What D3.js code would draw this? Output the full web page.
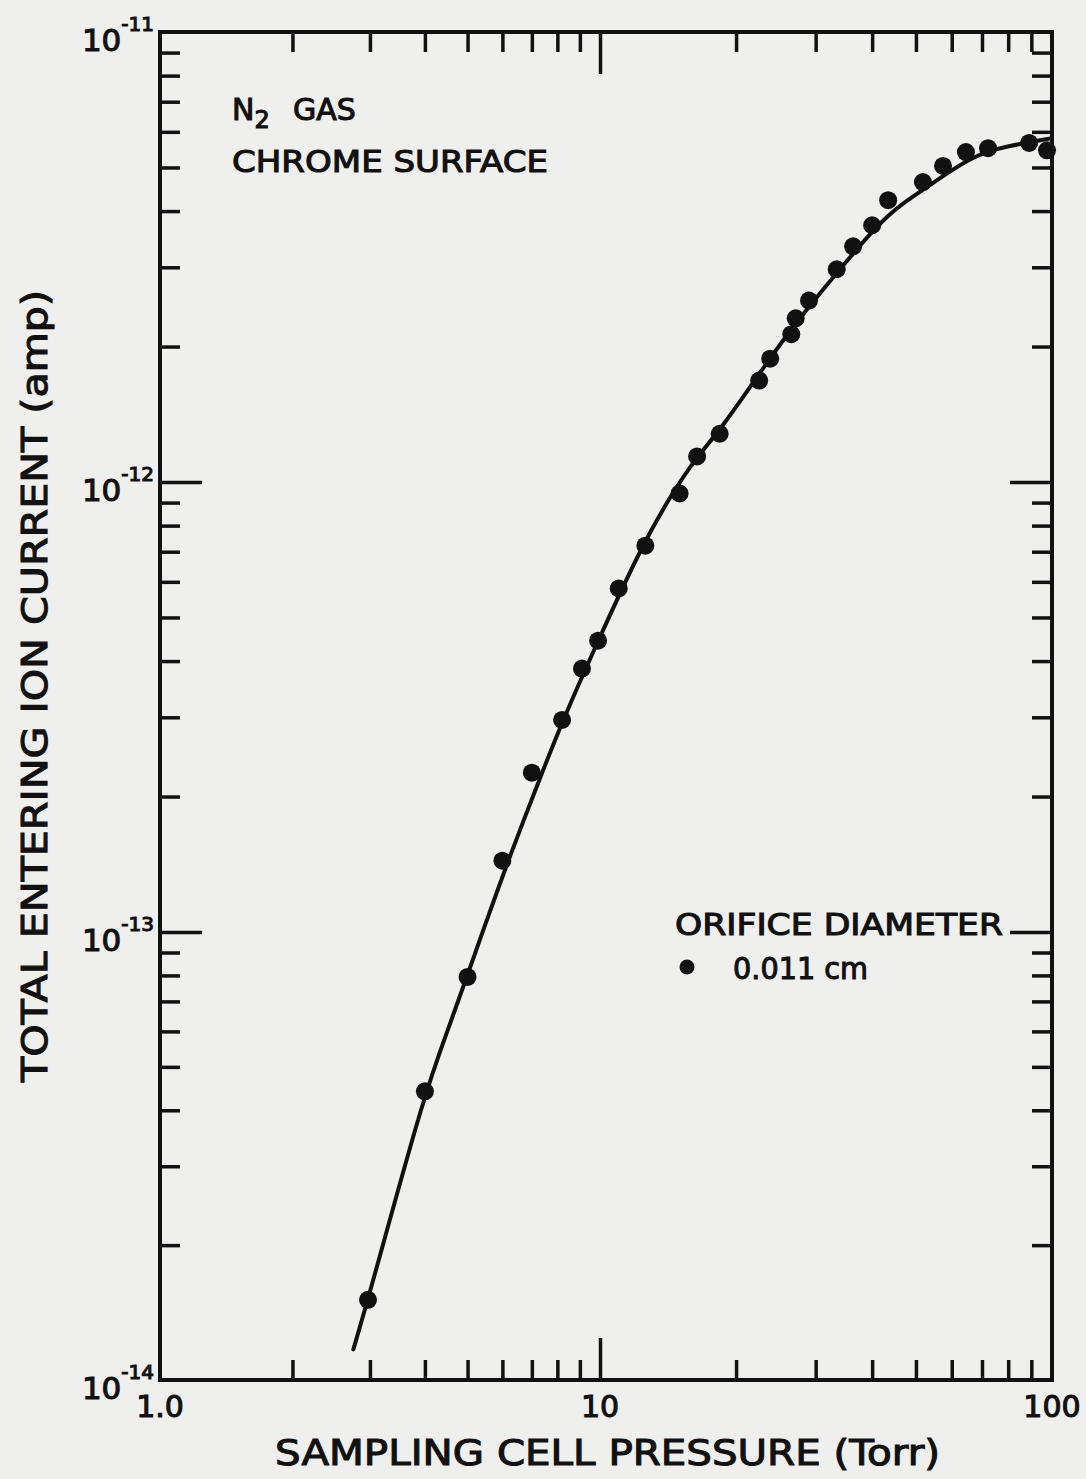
<!DOCTYPE html>
<html>
<head>
<meta charset="utf-8">
<script src="https://cdn.jsdelivr.net/npm/d3@7"></script>
<style>
  html, body { margin: 0; padding: 0; background: #efefed; }
  svg { display: block; }
  text { font-family: "DejaVu Sans", sans-serif; fill: #111; stroke: #111; stroke-width: 1.1px; }
</style>
</head>
<body>
<svg id="chart" width="1086" height="1479"></svg>
<script>
// ---- data ----
const pressure = [2.97, 4.0, 5.0, 6.0, 7.0, 8.2, 9.1, 9.9, 11.0, 12.6, 15.0, 16.4, 18.4, 22.5, 23.8,
                  26.5, 27.1, 29.0, 33.4, 36.3, 40.0, 43.4, 51.8, 57.4, 64.5, 72.2, 89.0, 97.5];
const current  = [1.51e-14, 4.41e-14, 7.94e-14, 1.44e-13, 2.26e-13, 2.96e-13, 3.85e-13, 4.44e-13,
                  5.8e-13, 7.22e-13, 9.43e-13, 1.14e-12, 1.28e-12, 1.68e-12, 1.88e-12, 2.13e-12,
                  2.31e-12, 2.53e-12, 2.97e-12, 3.34e-12, 3.72e-12, 4.23e-12, 4.64e-12, 5.04e-12,
                  5.41e-12, 5.52e-12, 5.67e-12, 5.46e-12];
// fitted curve as drawn in the reference
const curveP = [2.75, 2.97, 4.0, 4.51, 5.54, 6.18, 7.38, 8.24, 9.9, 12.38, 14.43, 16.39, 18.43,
                23.18, 26.73, 33.44, 41.64, 46.11, 52.9, 66.88, 79.5, 100];
const curveI = [1.17e-14, 1.51e-14, 4.41e-14, 6.02e-14, 1.069e-13, 1.439e-13, 2.258e-13, 2.962e-13,
                4.441e-13, 7.223e-13, 9.428e-13, 1.139e-12, 1.302e-12, 1.816e-12, 2.218e-12,
                2.924e-12, 3.778e-12, 4.122e-12, 4.52e-12, 5.326e-12, 5.577e-12, 5.81e-12];
const xMajor = [1, 10, 100];
const xLabels = ["1.0", "10", "100"];
const yMajor = [1e-14, 1e-13, 1e-12, 1e-11];
const yExponents = ["-14", "-13", "-12", "-11"];
const xTitle = "SAMPLING CELL PRESSURE (Torr)";
const yTitle = "TOTAL ENTERING ION CURRENT (amp)";
const legendTitle = "ORIFICE DIAMETER";
const legendItem = "0.011 cm";

// ---- layout ----
const L = 160, R = 1052, T = 32, B = 1380;
const svg = d3.select("#chart");
svg.append("rect").attr("width", 1086).attr("height", 1479).attr("fill", "#efefed");

const x = d3.scaleLog().domain([1, 10, 100]).range([L, 600, R]);
const y = d3.scaleLog().domain([1e-14, 1e-13, 1e-12, 1e-11]).range([B, 932, 482, T]);

const isMajor = v => Math.abs(Math.log10(v) - Math.round(Math.log10(v))) < 1e-9;
const xMinor = x.ticks().filter(v => !isMajor(v));
const yMinor = y.ticks().filter(v => !isMajor(v));

const minorLen = 20, majorLen = 42;
function addAxis(axisFn, scale, vals, len, tx, ty) {
  const g = svg.append("g").attr("transform", `translate(${tx},${ty})`)
    .call(axisFn(scale).tickValues(vals).tickSizeInner(-len).tickSizeOuter(0).tickFormat(""));
  g.select(".domain").remove();
  g.selectAll("line").attr("stroke", "#111").attr("stroke-width", 3.5);
}
addAxis(d3.axisBottom, x, xMinor, minorLen, 0, B);
addAxis(d3.axisBottom, x, xMajor.slice(1, 2), majorLen, 0, B);
addAxis(d3.axisTop, x, xMinor, minorLen, 0, T);
addAxis(d3.axisTop, x, xMajor.slice(1, 2), majorLen, 0, T);
addAxis(d3.axisLeft, y, yMinor, minorLen, L, 0);
addAxis(d3.axisLeft, y, yMajor.slice(1, 3), majorLen, L, 0);
addAxis(d3.axisRight, y, yMinor, minorLen, R, 0);
addAxis(d3.axisRight, y, yMajor.slice(1, 3), majorLen, R, 0);

// frame
svg.append("rect").attr("x", L).attr("y", T).attr("width", R - L).attr("height", B - T)
  .attr("fill", "none").attr("stroke", "#111").attr("stroke-width", 4);

// y tick labels (10^n)
yMajor.forEach((v, i) => {
  const t = svg.append("text").attr("x", L - 6).attr("y", y(v) + 19)
    .attr("text-anchor", "end").style("font-size", "31px");
  t.append("tspan").text("10");
  t.append("tspan").attr("dy", -20).style("font-size", "20px").text(yExponents[i]);
});

// x tick labels
xMajor.forEach((v, i) => {
  svg.append("text").attr("x", x(v)).attr("y", B + 37)
    .attr("text-anchor", "middle").style("font-size", "30px").text(xLabels[i]);
});

// axis titles
svg.append("text").attr("x", 275).attr("y", 1465).style("font-size", "36px")
  .attr("textLength", 665).attr("lengthAdjust", "spacingAndGlyphs").text(xTitle);
svg.append("text").attr("transform", "translate(47,1082) rotate(-90)")
  .style("font-size", "36px").attr("textLength", 792).attr("lengthAdjust", "spacingAndGlyphs")
  .text(yTitle);

// curve
const line = d3.line().x((d, i) => x(curveP[i])).y((d, i) => y(curveI[i]))
  .curve(d3.curveBasis);
svg.append("path").datum(curveP).attr("d", line)
  .attr("fill", "none").attr("stroke", "#111").attr("stroke-width", 4).attr("stroke-linecap", "round");

// data points
svg.append("g").selectAll("circle").data(pressure).join("circle")
  .attr("cx", d => x(d)).attr("cy", (d, i) => y(current[i])).attr("r", 9).attr("fill", "#111");

// annotation
const n2 = svg.append("text").attr("x", 232).attr("y", 120).style("font-size", "30px");
n2.append("tspan").text("N");
n2.append("tspan").attr("dy", 8).style("font-size", "24px").text("2");
n2.append("tspan").attr("x", 293).attr("dy", -8).text("GAS");
svg.append("text").attr("x", 232).attr("y", 172).style("font-size", "30px")
  .attr("textLength", 316).attr("lengthAdjust", "spacingAndGlyphs").text("CHROME SURFACE");

// legend
svg.append("text").attr("x", 675).attr("y", 935).style("font-size", "30px")
  .attr("textLength", 328).attr("lengthAdjust", "spacingAndGlyphs").text(legendTitle);
svg.append("circle").attr("cx", 687).attr("cy", 967).attr("r", 7.5).attr("fill", "#111");
svg.append("text").attr("x", 733).attr("y", 979).style("font-size", "30px")
  .attr("textLength", 135).attr("lengthAdjust", "spacingAndGlyphs").text(legendItem);
</script>
</body>
</html>
